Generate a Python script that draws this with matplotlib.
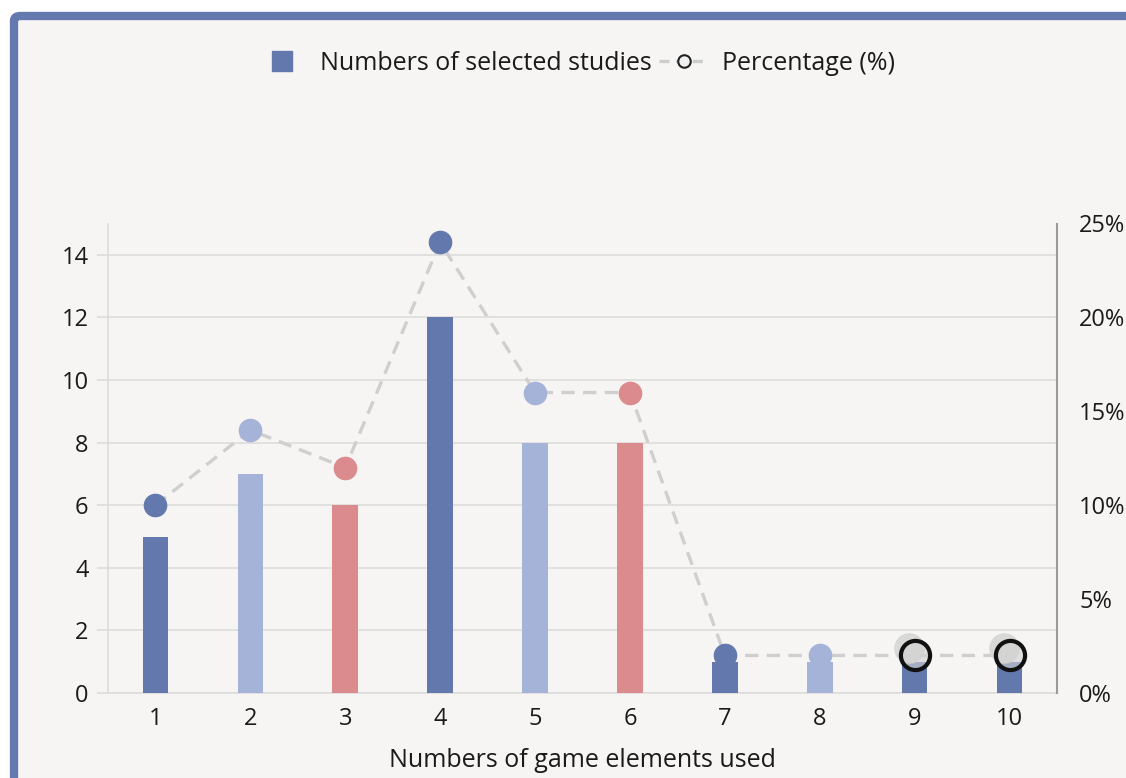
import matplotlib
matplotlib.use("Agg")
import matplotlib.pyplot as plt
from matplotlib.lines import Line2D
from matplotlib.patches import FancyBboxPatch
from matplotlib.transforms import ScaledTranslation

plt.rcParams['font.family'] = ['Open Sans', 'DejaVu Sans']

categories = ['1', '2', '3', '4', '5', '6', '7', '8', '9', '10']
studies = [5, 7, 6, 12, 8, 8, 1, 1, 1, 1]
percentage = [10, 14, 12, 24, 16, 16, 2, 2, 2, 2]
DARK = '#6379ae'
LIGHT = '#a5b3d8'
PINK = '#db8a8d'
bar_colors = [DARK, LIGHT, PINK, DARK, LIGHT, PINK, DARK, LIGHT, DARK, DARK]
highlighted = [False] * 8 + [True, True]

BG = '#f6f5f3'
FS = 17
fig = plt.figure(figsize=(11.26, 7.78), dpi=100)
fig.patch.set_facecolor('white')
frame = FancyBboxPatch((14 / 1126, -0.05), 1.2, 1 - 16 / 778 + 0.05,
                       boxstyle='round,pad=0,rounding_size=0.006',
                       transform=fig.transFigure, facecolor=BG,
                       edgecolor='#6479ad', linewidth=6, zorder=-10)
fig.patches.append(frame)

ax = fig.add_axes([108 / 1126, 1 - 693 / 778, (1057 - 108) / 1126, (693 - 223.5) / 778])
ax.set_facecolor('none')
x = list(range(len(categories)))
ax.bar(x, studies, width=0.27, color=bar_colors, zorder=3)
ax.set_xlim(-0.5, len(categories) - 0.5)
ax.set_ylim(0, 15)
ax.set_yticks(range(0, 15, 2))
ax.set_xticks(x)
ax.set_xticklabels(categories)
ax.grid(axis='y', color='#dcdcdc', linewidth=1.2, zorder=0)
for s in ['top', 'right']:
    ax.spines[s].set_visible(False)
ax.spines['left'].set_color('#dcdcdc')
ax.spines['bottom'].set_color('#dcdcdc')
ax.spines['left'].set_linewidth(1.2)
ax.spines['bottom'].set_linewidth(1.2)
ax.tick_params(axis='y', length=8, width=1.2, color='#dcdcdc', labelsize=FS, pad=6, labelcolor='#1a1a1a')
ax.tick_params(axis='x', length=0, labelsize=FS, pad=10, labelcolor='#1a1a1a')
ax.set_xlabel('Numbers of game elements used', fontsize=18, color='#1a1a1a', labelpad=12)

ax2 = ax.twinx()
ax2.set_ylim(0, 25)
ax2.set_yticks(range(0, 26, 5))
ax2.set_yticklabels([f'{v}%' for v in range(0, 26, 5)])
for s in ['top', 'left', 'bottom']:
    ax2.spines[s].set_visible(False)
ax2.spines['right'].set_color('#9a9a9a')
ax2.spines['right'].set_linewidth(1.5)
ax2.tick_params(axis='y', length=0, labelsize=FS, pad=16, labelcolor='#1a1a1a')

ax2.plot(x, percentage, linestyle=(0, (4, 2.5)), color='#cfcfcf', linewidth=2.4, zorder=2)
for xi, p, c, h in zip(x, percentage, bar_colors, highlighted):
    if h:
        off = ax2.transData + ScaledTranslation(-6 / 100, 7 / 100, fig.dpi_scale_trans)
        ax2.plot([xi], [p], marker='o', markersize=21, color='#d6d6d6', alpha=0.9,
                 linestyle='none', transform=off, zorder=4)
        ax2.plot([xi], [p], marker='o', markersize=21, markerfacecolor=(0.82, 0.82, 0.82, 0.6),
                 markeredgecolor='#111111', markeredgewidth=3, linestyle='none', zorder=5)
    else:
        ax2.plot([xi], [p], marker='o', markersize=16, color=c, linestyle='none', zorder=5)

handles = [Line2D([], [], marker='s', color=DARK, markersize=15, linestyle='none'),
           Line2D([], [], linestyle=(0, (3, 2)), color='#cccccc', linewidth=2.4,
                  marker='o', markersize=9, markerfacecolor='#f0f0f0',
                  markeredgecolor='#222222', markeredgewidth=1.5)]
fig.legend(handles, ['Numbers of selected studies', 'Percentage (%)'],
           loc='center', bbox_to_anchor=(576 / 1126, 1 - 63 / 778), ncol=2,
           frameon=False, fontsize=18, handlelength=2.0, columnspacing=0.3,
           handletextpad=0.5, labelcolor='#1a1a1a')

fig.savefig('out.png', dpi=100, facecolor=fig.get_facecolor())
